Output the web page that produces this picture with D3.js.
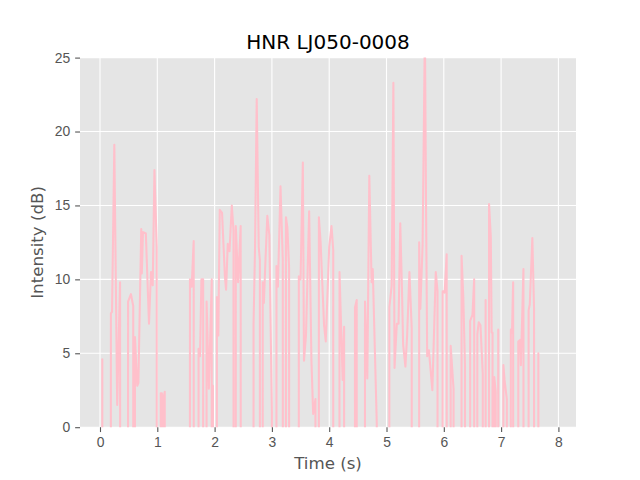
<!DOCTYPE html>
<html>
<head>
<meta charset="utf-8">
<style>
  body { margin: 0; background: #fff; }
  svg { font-family: "DejaVu Sans", sans-serif; }
  .tick text { fill: #555555; font-size: 13.9px; }
  .tick line { stroke: #555555; stroke-width: 1.1; }
  .axis .domain { display: none; }
</style>
</head>
<body>
<script src="https://cdn.jsdelivr.net/npm/d3@7"></script>
<script>
// time in seconds, HNR in dB (-200 = unvoiced, drops out of view)
var times = [
  0.00, 0.03, 0.04, 0.05, 0.18, 0.19, 0.21, 0.25, 0.30, 0.35, 0.38,
  0.48, 0.49, 0.54, 0.58, 0.59, 0.61, 0.65, 0.67, 0.72, 0.73, 0.75, 0.80, 0.855, 0.89, 0.92, 0.95, 0.99, 1.00,
  1.05, 1.06, 1.08, 1.09, 1.11, 1.13, 1.14,
  1.56, 1.57, 1.60, 1.635, 1.65, 1.71, 1.72, 1.745, 1.77, 1.80, 1.81,
  1.85, 1.86, 1.90, 1.95, 1.96, 1.97, 1.99, 2.03,
  2.04, 2.065, 2.09, 2.13, 2.18, 2.20, 2.23, 2.26, 2.30, 2.33, 2.34,
  2.36, 2.37, 2.41, 2.455, 2.47,
  2.67, 2.68, 2.705, 2.735, 2.77, 2.79, 2.80,
  2.83, 2.84, 2.86, 2.885, 2.92, 2.955, 3.00, 3.01,
  3.07, 3.08, 3.105, 3.15, 3.19, 3.20, 3.235, 3.245, 3.27, 3.30, 3.31,
  3.46, 3.47, 3.50, 3.54, 3.56, 3.595, 3.65, 3.69, 3.72, 3.76, 3.77,
  3.81, 3.82, 3.85, 3.91, 3.94, 4.00, 4.04, 4.07, 4.08,
  4.17, 4.18, 4.235, 4.26, 4.27,
  4.44, 4.45, 4.48, 4.49,
  4.61, 4.625, 4.665, 4.70, 4.74, 4.76, 4.83, 4.84,
  5.04, 5.05, 5.09, 5.12, 5.14, 5.18, 5.21, 5.24, 5.27, 5.29, 5.33, 5.36, 5.40, 5.44, 5.45,
  5.56, 5.57, 5.59, 5.63, 5.67, 5.69, 5.71, 5.74, 5.80, 5.86, 5.89, 5.90,
  5.97, 5.98, 6.015, 6.05, 6.06,
  6.11, 6.12, 6.17, 6.18,
  6.30, 6.31, 6.34, 6.37, 6.38,
  6.45, 6.46, 6.50, 6.53, 6.54,
  6.575, 6.585, 6.61, 6.64, 6.68, 6.69,
  6.72, 6.73, 6.74,
  6.78, 6.79, 6.82, 6.835, 6.85, 6.86,
  6.87, 6.88, 6.905, 6.915,
  6.94, 6.95, 6.96,
  7.03, 7.04, 7.06, 7.10, 7.11,
  7.16, 7.17, 7.19, 7.21, 7.22,
  7.29, 7.30, 7.33, 7.345, 7.39, 7.40,
  7.47, 7.48, 7.50, 7.545, 7.575, 7.585,
  7.64, 7.65, 7.66, 7.70
];
var hnr = [
  -200, -200, 4.6, -200, -200, 7.7, 7.8, 19.1, 1.5, 9.8, -200,
  -200, 8.5, 9.0, 8.2, -200, 6.1, 2.8, 3.0, 13.4, 10.4, 13.2, 13.1, 7.0, 10.5, 9.6, 17.4, 12.2, -200,
  -200, 2.3, 2.3, -200, 2.0, 2.4, -200,
  -200, 10.0, 9.5, 12.6, -200, -200, 5.3, 4.8, 10.0, 10.0, -200,
  -200, 8.5, 2.6, 10.0, -200, 2.8, -200, -200,
  8.8, 6.2, 14.7, 14.5, 10.2, 9.3, 12.4, 11.9, 15.0, 13.3, -200,
  -200, 13.6, 9.8, 13.6, -200,
  -200, 7.0, 12.0, 22.2, 12.2, 11.3, -200,
  -200, 9.8, 8.4, 11.0, 14.3, 13.0, 1.0, -200,
  -200, 10.9, 9.5, 16.3, 11.3, -200, -200, 14.2, 13.5, 10.8, -200,
  -200, 10.2, 10.0, 17.9, 4.5, 6.2, 14.6, 4.5, 0.9, 1.9, -200,
  -200, 14.2, 12.5, 6.9, 5.8, 12.2, 13.6, 12.0, -200,
  -200, 10.5, 3.2, 6.8, -200,
  -200, 8.1, 8.6, -200,
  -200, 8.5, 3.3, 17.0, 9.8, 10.7, 0.3, -200,
  -200, 8.1, 9.6, 23.3, 4.0, 7.0, 7.0, 13.8, 9.3, 5.6, 4.1, 6.2, 10.5, 6.7, -200,
  -200, 12.5, 8.0, 12.3, 27.0, 15.0, 4.8, 5.2, 2.5, 10.5, 9.2, -200,
  -200, 9.2, 9.1, 11.7, -200,
  -200, 5.5, 2.6, -200,
  -200, 11.6, 8.8, 4.1, -200,
  -200, 7.2, 7.6, 10.0, -200,
  -200, 6.3, 7.1, 6.9, 3.6, -200,
  -200, 8.6, -200,
  -200, 15.1, 12.9, 6.4, 6.4, -200,
  -200, 3.4, 2.4, -200,
  -200, 6.6, -200,
  -200, 4.2, 3.2, 1.9, -200,
  -200, 6.6, 6.4, 9.8, -200,
  -200, 5.8, 5.9, 4.2, 10.7, -200,
  -200, 7.9, 8.3, 12.8, 8.0, -200,
  -200, 5.0, -200, -200
];
var xTicks = [0, 1, 2, 3, 4, 5, 6, 7, 8];
var yTicks = [0, 5, 10, 15, 20, 25];

var W = 640, H = 480;
var margin = {top: 57.6, right: 64, bottom: 52.8, left: 80},
    width = W - margin.left - margin.right,
    height = H - margin.top - margin.bottom;

var svg = d3.select("body").append("svg")
    .attr("width", W)
    .attr("height", H);

var g = svg.append("g").attr("transform", "translate(" + margin.left + "," + margin.top + ")");

var x = d3.scaleLinear().domain([-0.349, 8.307]).range([0, width]);
var y = d3.scaleLinear().domain([0, 25]).range([height, 0]);

g.append("rect")
    .attr("width", width)
    .attr("height", height)
    .attr("fill", "#E5E5E5");

// grid
g.append("g").selectAll("line").data(xTicks).enter().append("line")
    .attr("x1", function(d) { return x(d); })
    .attr("x2", function(d) { return x(d); })
    .attr("y1", 0).attr("y2", height)
    .attr("stroke", "#fff").attr("stroke-width", 1.1);
g.append("g").selectAll("line").data(yTicks).enter().append("line")
    .attr("y1", function(d) { return y(d); })
    .attr("y2", function(d) { return y(d); })
    .attr("x1", 0).attr("x2", width)
    .attr("stroke", "#fff").attr("stroke-width", 1.1);

svg.append("clipPath").attr("id", "clip")
  .append("rect").attr("width", width).attr("height", height);

var data = times.map(function(t, i) { return [t, hnr[i]]; });

var line = d3.line()
    .x(function(d) { return x(d[0]); })
    .y(function(d) { return y(d[1]); });

g.append("path")
    .datum(data)
    .attr("clip-path", "url(#clip)")
    .attr("fill", "none")
    .attr("stroke", "pink")
    .attr("stroke-width", 2.08)
    .attr("stroke-linejoin", "round")
    .attr("d", line);

g.append("g")
    .attr("class", "axis")
    .attr("transform", "translate(0," + height + ")")
    .call(d3.axisBottom(x).tickValues(xTicks).tickFormat(d3.format("d")).tickSize(4.86).tickPadding(4.86));

g.append("g")
    .attr("class", "axis")
    .call(d3.axisLeft(y).tickValues(yTicks).tickFormat(d3.format("d")).tickSize(4.86).tickPadding(4.86));

svg.append("text")
    .attr("x", margin.left + width / 2)
    .attr("y", 49.3)
    .attr("text-anchor", "middle")
    .attr("font-size", "20px")
    .attr("fill", "#000")
    .text("HNR LJ050-0008");

svg.append("text")
    .attr("x", margin.left + width / 2)
    .attr("y", 469)
    .attr("text-anchor", "middle")
    .attr("font-size", "16.67px")
    .attr("fill", "#555555")
    .text("Time (s)");

svg.append("text")
    .attr("transform", "translate(43," + (margin.top + height / 2) + ") rotate(-90)")
    .attr("text-anchor", "middle")
    .attr("font-size", "16.67px")
    .attr("fill", "#555555")
    .text("Intensity (dB)");
</script>
</body>
</html>
